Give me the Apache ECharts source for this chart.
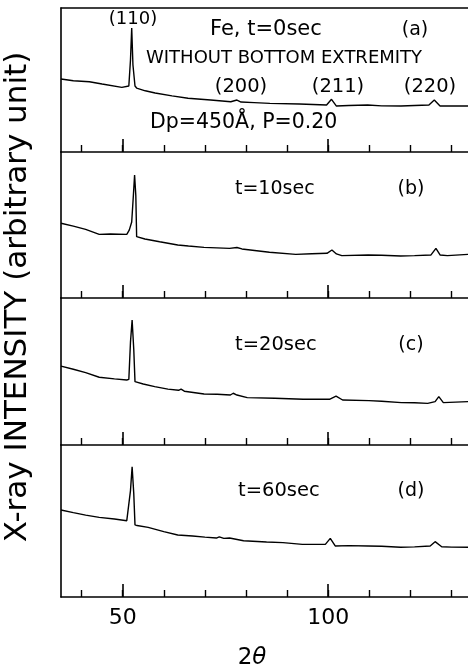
<!DOCTYPE html>
<html>
<head>
<meta charset="utf-8">
<script src="https://cdn.jsdelivr.net/npm/echarts@6/dist/echarts.min.js"></script>
<style>html,body{margin:0;padding:0;background:#fff}#c{width:468px;height:671px}</style>
</head>
<body>
<div id="c"></div>
<script>
// 2θ sample positions and intensities (arbitrary unit, 0-100 per panel)
var xA = [35, 38, 41.9, 45, 49.8, 51.5, 51.9, 52.2, 52.5, 53.0, 53.4, 55.5, 57.9, 62, 65.9, 71.4, 76.3, 77.8, 78.8, 82, 85.8, 93, 99.6, 100.8, 102, 105, 109.6, 113, 117.7, 121, 124.5, 125.8, 127.2, 130, 134];
var yA = [50.7, 49.5, 48.8, 47.2, 44.9, 45.8, 63.9, 86.1, 60.4, 45.8, 44.4, 42.5, 41.0, 39.0, 37.3, 36.1, 34.9, 36.1, 34.7, 34.3, 33.8, 33.3, 32.6, 36.6, 31.9, 32.3, 32.6, 32.0, 31.9, 32.3, 32.6, 36.1, 31.9, 32.0, 31.9];

var xB = [35, 38, 41, 44.3, 47, 51.0, 51.6, 52.2, 52.6, 52.9, 53.2, 53.4, 55.4, 59, 63.4, 66, 69.8, 76, 77.8, 79, 85.7, 92.1, 96, 99.7, 100.9, 102, 103.3, 109.7, 113, 117.6, 121, 125.0, 126.2, 127.2, 129, 134];
var yB = [51.2, 49.2, 47.0, 43.6, 43.8, 43.6, 46.5, 52, 70, 84.2, 70, 42, 40.4, 38.5, 36.3, 35.6, 34.7, 34.0, 34.6, 33.6, 31.3, 29.9, 30.3, 30.6, 32.9, 30.2, 29.0, 29.5, 29.3, 28.8, 29.0, 29.5, 34.0, 29.5, 29.0, 29.9];

var xC = [35, 38, 41, 44.3, 48, 51.0, 51.5, 51.9, 52.3, 52.7, 53.0, 55, 57.8, 61, 63.6, 64.2, 65, 69.8, 73, 76.2, 76.9, 77.8, 80.3, 87, 93.9, 100.3, 101.9, 103.5, 109.9, 113, 117.8, 121, 124.2, 126.0, 126.9, 128.0, 131, 134];
var yC = [53.7, 51.5, 49.2, 46.1, 45.0, 44.2, 44.6, 70, 85.0, 65, 43.1, 41.5, 39.7, 38.0, 37.2, 38.0, 36.6, 34.7, 34.5, 34.0, 35.2, 34.0, 32.2, 31.8, 31.1, 31.1, 33.3, 30.6, 30.2, 29.8, 28.8, 28.7, 28.3, 29.5, 32.9, 28.8, 29.2, 29.5];

var xD = [35, 38, 41, 44.3, 48, 51.0, 51.4, 51.9, 52.3, 52.7, 53.0, 53.5, 56.2, 60, 63.4, 67, 70, 72.8, 73.5, 74.6, 76, 79.4, 85, 89, 93.7, 99.3, 100.5, 101.7, 105, 109.7, 113, 117.6, 121, 124.8, 126.0, 127.6, 130, 134];
var yD = [57.2, 55.5, 53.9, 52.4, 51.3, 50.2, 50.7, 70, 85.7, 68, 47.4, 47.0, 45.8, 43.0, 40.8, 40.1, 39.4, 38.8, 39.6, 38.6, 38.8, 37.0, 36.2, 35.8, 34.6, 34.6, 38.6, 33.6, 33.8, 33.6, 33.4, 32.7, 33.0, 33.6, 36.4, 33.1, 32.8, 32.7];

var minorTickValues = [40, 50, 60, 70, 80, 90, 100, 110, 120, 130];
var majorTickValues = [50, 100];
var tickLabelValues = [50, 100];

var panelTitles = ['Fe, t=0sec', 't=10sec', 't=20sec', 't=60sec'];
var panelTags = ['(a)', '(b)', '(c)', '(d)'];
var peakLabels = ['(110)', '(200)', '(211)', '(220)'];

function pairs(xs, ys) { return xs.map(function (x, i) { return [x, ys[i]]; }); }

var FONT = '"DejaVu Sans", sans-serif';
var grids = [
  {left: 61, top: 8, width: 414, height: 144},
  {left: 61, top: 152, width: 414, height: 146},
  {left: 61, top: 298, width: 414, height: 147},
  {left: 61, top: 445, width: 414, height: 152}
];
var lineBlack = {color: '#000', width: 1.6};
var xAxes = [], yAxes = [], series = [];
var datasets = [pairs(xA, yA), pairs(xB, yB), pairs(xC, yC), pairs(xD, yD)];
grids.forEach(function (g, i) {
  var last = i === 3;
  xAxes.push({
    type: 'value', gridIndex: i, min: 35, max: 134, position: 'bottom',
    axisLine: {show: true, onZero: false, lineStyle: lineBlack},
    axisTick: {show: true, inside: true, length: 7, customValues: minorTickValues, lineStyle: {color: '#000', width: 1.4}},
    axisLabel: last ? {show: true, customValues: tickLabelValues, color: '#000', fontSize: 22, fontFamily: FONT, margin: 10} : {show: false},
    splitLine: {show: false}
  });
  xAxes.push({
    type: 'value', gridIndex: i, min: 35, max: 134, position: 'bottom',
    axisLine: {show: false},
    axisTick: {show: true, inside: true, length: 13, customValues: majorTickValues, lineStyle: {color: '#000', width: 1.6}},
    axisLabel: {show: false}, splitLine: {show: false}
  });
  yAxes.push({
    type: 'value', gridIndex: i, min: 0, max: 100,
    axisLine: {show: true, lineStyle: lineBlack},
    axisTick: {show: false}, axisLabel: {show: false}, splitLine: {show: false}
  });
  series.push({
    type: 'line', xAxisIndex: i * 2, yAxisIndex: i, data: datasets[i],
    showSymbol: false, symbol: 'none', smooth: false,
    lineStyle: {color: '#000', width: 1.4}, animation: false
  });
});
xAxes.push({
  type: 'value', gridIndex: 0, min: 35, max: 134, position: 'top',
  axisLine: {show: true, lineStyle: lineBlack},
  axisTick: {show: false}, axisLabel: {show: false}, splitLine: {show: false}
});

function txt(t, x, y, size, align) {
  return {type: 'text', x: x, y: y, silent: true,
    style: {text: t, font: size + 'px ' + FONT, fill: '#000', align: align || 'left', verticalAlign: 'middle'}};
}
var graphics = [
  txt(peakLabels[0], 133, 19, 18, 'center'),
  txt(panelTitles[0], 210, 30, 21),
  txt(panelTags[0], 415, 30, 19, 'center'),
  txt('WITHOUT BOTTOM EXTREMITY', 146, 58, 18),
  txt(peakLabels[1], 241, 87, 19.5, 'center'),
  txt(peakLabels[2], 338, 87, 19.5, 'center'),
  txt(peakLabels[3], 430, 87, 19.5, 'center'),
  txt('Dp=450Å, P=0.20', 150, 123, 20.5),
  txt(panelTitles[1], 235, 189, 19),
  txt(panelTags[1], 411, 189, 19, 'center'),
  txt(panelTitles[2], 235, 345, 19.5),
  txt(panelTags[2], 411, 345, 19, 'center'),
  txt(panelTitles[3], 238, 491, 19.5),
  txt(panelTags[3], 411, 491, 19, 'center'),
  {type: 'text', x: 18, y: 297, rotation: Math.PI / 2, silent: true,
    style: {text: 'X-ray INTENSITY (arbitrary unit)', font: '31px ' + FONT, fill: '#000', align: 'center', verticalAlign: 'middle'}},
  {type: 'text', x: 252, y: 658, silent: true,
    style: {text: '{a|2}{b|θ}', align: 'center', verticalAlign: 'middle',
      rich: {a: {font: '23px ' + FONT, fill: '#000'}, b: {font: 'italic 23px ' + FONT, fill: '#000'}}}}
];

var chart = echarts.init(document.getElementById('c'), null, {renderer: 'canvas'});
chart.setOption({
  animation: false,
  backgroundColor: '#fff',
  grid: grids,
  xAxis: xAxes,
  yAxis: yAxes,
  series: series,
  graphic: graphics
});
</script>
</body>
</html>
